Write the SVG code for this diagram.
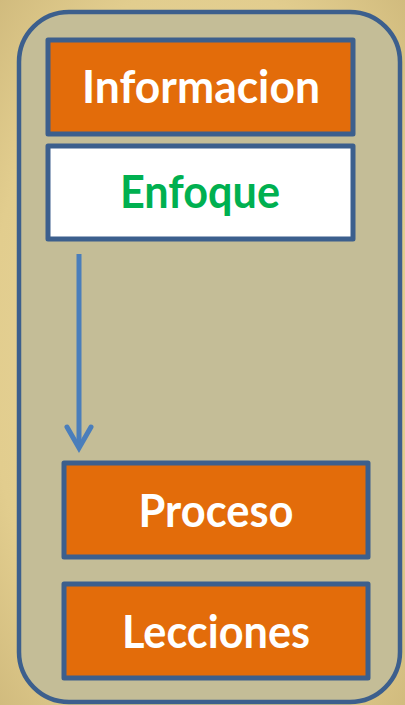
<svg xmlns="http://www.w3.org/2000/svg" width="405" height="705" viewBox="0 0 405 705">
<defs>
<style>
.box{stroke:#3c5f8d;stroke-width:5;stroke-linejoin:round}
.org{fill:#e36c0a}
.lbl{font-family:Lato,"Open Sans",sans-serif;font-weight:bold;font-size:45px;text-anchor:middle}
</style>
<radialGradient id="bg" cx="50%" cy="50%" r="75%">
<stop offset="0" stop-color="#e9d9a2"/>
<stop offset="0.7" stop-color="#e2cd8e"/>
<stop offset="1" stop-color="#cdb77a"/>
</radialGradient>
</defs>
<rect x="0" y="0" width="405" height="705" fill="url(#bg)"/>
<g id="container">
<rect x="19" y="12" width="381" height="690" rx="50" ry="50" fill="#c4bd97" stroke="#3c5f8d" stroke-width="4.5"/>
</g>
<g id="informacion">
<rect class="box org" x="48" y="40" width="305" height="94"/>
<text class="lbl" x="201" y="103" fill="#ffffff" textLength="238" lengthAdjust="spacingAndGlyphs">Informacion</text>
</g>
<g id="enfoque">
<rect class="box" x="48" y="146" width="305" height="93" fill="#ffffff"/>
<text class="lbl" x="200" y="208" fill="#00b050" textLength="160" lengthAdjust="spacingAndGlyphs">Enfoque</text>
</g>
<g id="connectors">
<line x1="79" y1="254" x2="79" y2="446" stroke="#4a7ebb" stroke-width="5"/>
<polyline points="67,427 79,448 91,427" fill="none" stroke="#4a7ebb" stroke-width="5" stroke-linecap="round" stroke-linejoin="miter"/>
</g>
<g id="proceso">
<rect class="box org" x="64" y="463" width="304" height="94"/>
<text class="lbl" x="216" y="527" fill="#ffffff" textLength="155" lengthAdjust="spacingAndGlyphs">Proceso</text>
</g>
<g id="lecciones">
<rect class="box org" x="64" y="584" width="304" height="94"/>
<text class="lbl" x="216" y="648" fill="#ffffff" textLength="188" lengthAdjust="spacingAndGlyphs">Lecciones</text>
</g>
</svg>
